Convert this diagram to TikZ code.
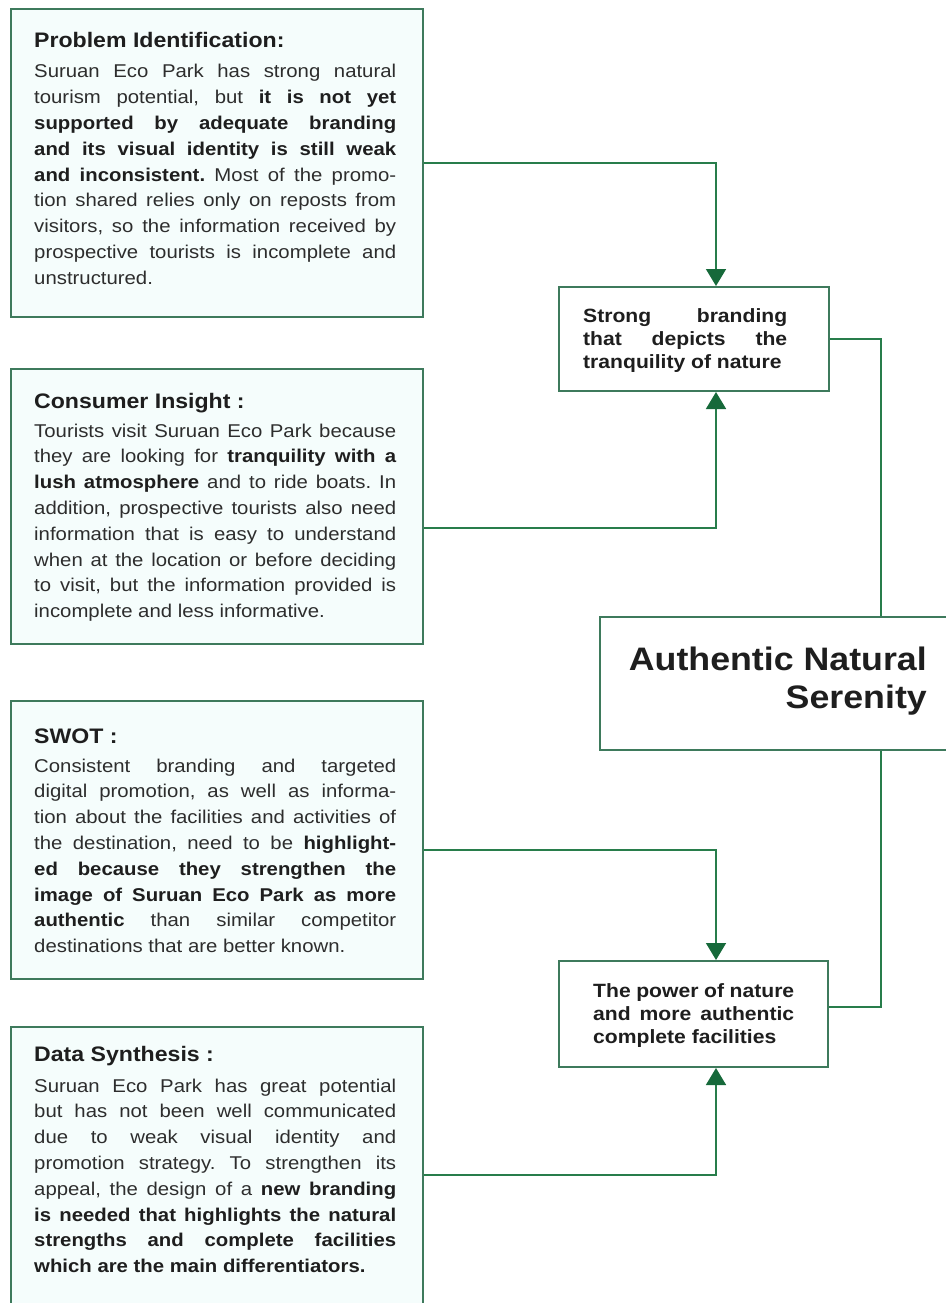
\documentclass[tikz,border=0pt]{standalone}
\usepackage{fontspec}
\setmainfont{Liberation Sans}[FakeStretch=1.1]
\usetikzlibrary{arrows.meta}
\definecolor{boxline}{RGB}{62,122,92}
\definecolor{connline}{RGB}{40,125,75}
\definecolor{tipgreen}{RGB}{22,105,58}
\definecolor{mint}{RGB}{245,253,252}
\definecolor{txt}{RGB}{30,30,30}
\definecolor{bodytxt}{RGB}{45,45,45}
\tolerance=10000
\hbadness=10000
\frenchspacing
\begin{document}
\begin{tikzpicture}[x=1pt,y=-1pt,
  leftbox/.style={draw=boxline,line width=2pt,fill=mint,rectangle,inner sep=0pt,anchor=north west},
  rightbox/.style={draw=boxline,line width=2pt,fill=white,rectangle,inner sep=0pt,anchor=north west},
  heading/.style={anchor=base west,inner sep=0pt,font=\fontsize{21}{25}\selectfont\bfseries,text=txt},
  body/.style={anchor=base west,inner sep=0pt,text width=362pt,align=justify,font=\fontsize{18.5}{25.8}\selectfont\frenchspacing,text=bodytxt},
  smallbold/.style={anchor=base west,inner sep=0pt,align=justify,font=\fontsize{19.2}{23}\selectfont\bfseries,text=txt},
  title/.style={anchor=base east,inner sep=0pt,font=\fontsize{32.5}{39}\selectfont\bfseries,text=txt},
  conn/.style={draw=connline,line width=1.6pt},
  arr/.style={conn,-{Triangle[width=20pt,length=17pt,color=tipgreen]}}
]
\useasboundingbox (0,0) rectangle (945,1303);
\fill[white] (0,0) rectangle (945,1303);

% boxes
\node[leftbox,minimum width=412pt,minimum height=308pt] (prob) at (10,8) {};
\node[leftbox,minimum width=412pt,minimum height=275pt] (cons) at (10,368) {};
\node[leftbox,minimum width=412pt,minimum height=278pt] (swot) at (10,700) {};
\node[leftbox,minimum width=412pt,minimum height=310pt] (data) at (10,1026) {};
\node[rightbox,minimum width=270pt,minimum height=104pt] (brand) at (558,286) {};
\node[rightbox,minimum width=370pt,minimum height=133pt] (auth) at (599,616) {};
\node[rightbox,minimum width=269pt,minimum height=106pt] (power) at (558,960) {};

% texts left
\node[heading] (probh) at (34,48) {Problem Identification:};
\node[body] (probt) at (34,78) {Suruan Eco Park has strong natural\linebreak
tourism potential, but \textbf{\color{txt}it is not yet}\linebreak
\textbf{\color{txt}supported by adequate branding}\linebreak
\textbf{\color{txt}and its visual identity is still weak}\linebreak
\textbf{\color{txt}and inconsistent.} Most of the promo-\linebreak
tion shared relies only on reposts from\linebreak
visitors, so the information received by\linebreak
prospective tourists is incomplete and\linebreak
unstructured.};

\node[heading] (consh) at (34,408) {Consumer Insight :};
\node[body] (const) at (34,437) {Tourists visit Suruan Eco Park because\linebreak
they are looking for \textbf{\color{txt}tranquility with a}\linebreak
\textbf{\color{txt}lush atmosphere} and to ride boats. In\linebreak
addition, prospective tourists also need\linebreak
information that is easy to understand\linebreak
when at the location or before deciding\linebreak
to visit, but the information provided is\linebreak
incomplete and less informative.};

\node[heading] (swoth) at (34,743) {SWOT :};
\node[body] (swott) at (34,772) {Consistent branding and targeted\linebreak
digital promotion, as well as informa-\linebreak
tion about the facilities and activities of\linebreak
the destination, need to be \textbf{\color{txt}highlight-}\linebreak
\textbf{\color{txt}ed because they strengthen the}\linebreak
\textbf{\color{txt}image of Suruan Eco Park as more}\linebreak
\textbf{\color{txt}authentic} than similar competitor\linebreak
destinations that are better known.};

\node[heading] (datah) at (34,1061) {Data Synthesis :};
\node[body] (datat) at (34,1092) {Suruan Eco Park has great potential\linebreak
but has not been well communicated\linebreak
due to weak visual identity and\linebreak
promotion strategy. To strengthen its\linebreak
appeal, the design of a \textbf{\color{txt}new branding}\linebreak
\textbf{\color{txt}is needed that highlights the natural}\linebreak
\textbf{\color{txt}strengths and complete facilities}\linebreak
\textbf{\color{txt}which are the main differentiators.}};

% texts right
\node[smallbold,text width=204pt] (brandt) at (583,322) {Strong branding\linebreak that depicts the\linebreak tranquility of nature};
\node[title] (autht1) at (927,670) {Authentic Natural};
\node[title] (autht2) at (927,708) {Serenity};
\node[smallbold,text width=201pt] (powert) at (593,997) {The power of nature\linebreak and more authentic\linebreak complete facilities};

% connectors
\draw[arr] (prob.east) -| (brand.north -| 716,0);
\draw[arr] (cons.east |- 0,528) -| (brand.south -| 716,0);
\draw[conn] (brand.east) -| (auth.north -| 881,0);
\draw[conn] (auth.south -| 881,0) |- (power.east |- 0,1007);
\draw[arr] (swot.east |- 0,850) -| (power.north -| 716,0);
\draw[arr] (data.east |- 0,1175) -| (power.south -| 716,0);
\end{tikzpicture}
\end{document}
